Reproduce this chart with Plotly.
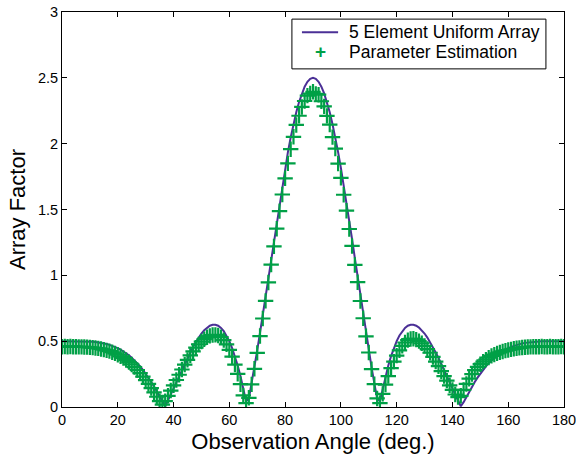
import plotly.graph_objects as go

# Observation angles in degrees (1 degree step)
angles = list(range(0, 181))

# Array factor of the 5-element uniform array
uniform_af = [
    # 0-9
    0.500, 0.500, 0.500, 0.500, 0.500, 0.500, 0.500, 0.499, 0.499, 0.498,
    # 10-19
    0.497, 0.495, 0.493, 0.490, 0.487, 0.483, 0.478, 0.472, 0.465, 0.457,
    # 20-29
    0.447, 0.436, 0.423, 0.409, 0.393, 0.375, 0.355, 0.333, 0.309, 0.282,
    # 30-39
    0.253, 0.223, 0.190, 0.155, 0.117, 0.078, 0.037, 0.006, 0.050, 0.095,
    # 40-49
    0.141, 0.188, 0.235, 0.282, 0.328, 0.372, 0.415, 0.456, 0.493, 0.527,
    # 50-59
    0.558, 0.583, 0.603, 0.617, 0.624, 0.624, 0.617, 0.601, 0.576, 0.543,
    # 60-69
    0.500, 0.448, 0.386, 0.315, 0.234, 0.143, 0.044, 0.063, 0.179, 0.301,
    # 70-79
    0.430, 0.564, 0.702, 0.844, 0.988, 1.132, 1.276, 1.417, 1.555, 1.689,
    # 80-89
    1.816, 1.936, 2.047, 2.148, 2.239, 2.316, 2.382, 2.433, 2.470, 2.493,
    # 90-99
    2.500, 2.493, 2.470, 2.433, 2.382, 2.316, 2.239, 2.148, 2.047, 1.936,
    # 100-109
    1.816, 1.689, 1.555, 1.417, 1.276, 1.132, 0.988, 0.844, 0.702, 0.564,
    # 110-119
    0.430, 0.301, 0.179, 0.063, 0.044, 0.143, 0.234, 0.315, 0.386, 0.448,
    # 120-129
    0.500, 0.543, 0.576, 0.601, 0.617, 0.624, 0.624, 0.617, 0.603, 0.583,
    # 130-139
    0.558, 0.527, 0.493, 0.456, 0.415, 0.372, 0.328, 0.282, 0.235, 0.188,
    # 140-149
    0.141, 0.095, 0.050, 0.006, 0.037, 0.078, 0.117, 0.155, 0.190, 0.223,
    # 150-159
    0.253, 0.282, 0.309, 0.333, 0.355, 0.375, 0.393, 0.409, 0.423, 0.436,
    # 160-169
    0.447, 0.457, 0.465, 0.472, 0.478, 0.483, 0.487, 0.490, 0.493, 0.495,
    # 170-180
    0.497, 0.498, 0.499, 0.499, 0.500, 0.500, 0.500, 0.500, 0.500, 0.500, 0.500,
]

# Array factor recovered by parameter estimation
estimated_af = [
    # 0-9
    0.458, 0.459, 0.458, 0.459, 0.458, 0.458, 0.457, 0.457, 0.456, 0.455,
    # 10-19
    0.453, 0.451, 0.448, 0.445, 0.441, 0.436, 0.430, 0.424, 0.416, 0.407,
    # 20-29
    0.397, 0.385, 0.372, 0.357, 0.341, 0.323, 0.303, 0.281, 0.257, 0.231,
    # 30-39
    0.204, 0.175, 0.144, 0.111, 0.078, 0.045, 0.018, 0.045, 0.085, 0.125,
    # 40-49
    0.165, 0.205, 0.245, 0.285, 0.322, 0.358, 0.392, 0.423, 0.451, 0.476,
    # 50-59
    0.497, 0.515, 0.530, 0.540, 0.547, 0.548, 0.543, 0.530, 0.508, 0.476,
    # 60-69
    0.434, 0.383, 0.322, 0.252, 0.173, 0.088, 0.030, 0.070, 0.172, 0.290,
    # 70-79
    0.411, 0.539, 0.672, 0.806, 0.946, 1.081, 1.220, 1.354, 1.488, 1.614,
    # 80-89
    1.737, 1.850, 1.958, 2.052, 2.142, 2.212, 2.279, 2.324, 2.365, 2.381,
    # 90-99
    2.394, 2.378, 2.372, 2.322, 2.283, 2.211, 2.145, 2.050, 1.962, 1.849,
    # 100-109
    1.740, 1.612, 1.491, 1.352, 1.223, 1.079, 0.948, 0.805, 0.674, 0.537,
    # 110-119
    0.414, 0.287, 0.173, 0.065, 0.030, 0.100, 0.170, 0.235, 0.295, 0.345,
    # 120-129
    0.390, 0.430, 0.465, 0.490, 0.508, 0.517, 0.518, 0.512, 0.500, 0.484,
    # 130-139
    0.464, 0.440, 0.412, 0.380, 0.345, 0.310, 0.272, 0.235, 0.200, 0.165,
    # 140-149
    0.130, 0.095, 0.075, 0.085, 0.130, 0.175, 0.215, 0.250, 0.280, 0.305,
    # 150-159
    0.325, 0.345, 0.360, 0.375, 0.388, 0.398, 0.407, 0.415, 0.422, 0.428,
    # 160-169
    0.433, 0.438, 0.442, 0.446, 0.449, 0.452, 0.454, 0.456, 0.457, 0.458,
    # 170-180
    0.458, 0.458, 0.459, 0.458, 0.458, 0.459, 0.458, 0.458, 0.458, 0.459, 0.458,
]

series_names = ["5 Element Uniform Array", "Parameter Estimation"]
x_ticks = list(range(0, 181, 20))
y_ticks = [0, 0.5, 1, 1.5, 2, 2.5, 3]

FONT = "Liberation Sans, Arial, sans-serif"
LINE_COLOR = "rgb(75,48,150)"
MARK_COLOR = "rgb(0,160,70)"

fig = go.Figure()
fig.add_trace(go.Scatter(
    x=angles, y=uniform_af, mode="lines",
    name=series_names[0], showlegend=False,
    line=dict(color=LINE_COLOR, width=2),
))
fig.add_trace(go.Scatter(
    x=angles, y=estimated_af, mode="markers",
    name=series_names[1], showlegend=False,
    marker=dict(symbol="cross-thin", size=11, color=MARK_COLOR,
                line=dict(color=MARK_COLOR, width=2.2)),
))

axis_common = dict(
    showline=True, linecolor="black", linewidth=1, mirror="ticks",
    ticks="inside", ticklen=5, tickwidth=1, tickcolor="black",
    showgrid=False, zeroline=False, automargin=False,
    ticklabeloverflow="allow",
    tickfont=dict(family=FONT, size=14.5, color="black"),
)

# Legend box drawn in paper coordinates (relative to the plot area)
box = dict(x0=0.458, x1=0.964, y0=0.856, y1=0.982)
row_y = [0.949, 0.899]
sym_x0, sym_x1, text_x = 0.478, 0.550, 0.568

shapes = [
    dict(type="rect", xref="paper", yref="paper", **box,
         line=dict(color="black", width=1), fillcolor="white", layer="above"),
    dict(type="line", xref="paper", yref="paper",
         x0=sym_x0, x1=sym_x1, y0=row_y[0], y1=row_y[0],
         line=dict(color=LINE_COLOR, width=2), layer="above"),
]
annotations = [
    dict(xref="paper", yref="paper", x=text_x, y=yy, text=name,
         xanchor="left", yanchor="middle", showarrow=False,
         font=dict(family=FONT, size=17.5, color="black"))
    for name, yy in zip(series_names, row_y)
]
annotations.append(
    dict(xref="paper", yref="paper", x=(sym_x0 + sym_x1) / 2, y=row_y[1],
         text="<b>+</b>", xanchor="center", yanchor="middle", showarrow=False,
         font=dict(family=FONT, size=19, color=MARK_COLOR))
)

fig.update_layout(
    width=576, height=460,
    margin=dict(l=62, r=12, t=12, b=53),
    paper_bgcolor="white", plot_bgcolor="white",
    showlegend=False,
    shapes=shapes,
    annotations=annotations,
    xaxis=dict(
        range=[0, 180], tickvals=x_ticks,
        title=dict(text="Observation Angle (deg.)", standoff=6,
                   font=dict(family=FONT, size=22, color="black")),
        **axis_common,
    ),
    yaxis=dict(
        range=[0, 3], tickvals=y_ticks,
        title=dict(text="Array Factor", standoff=6,
                   font=dict(family=FONT, size=22, color="black")),
        **axis_common,
    ),
)

fig.write_html("out.html")
